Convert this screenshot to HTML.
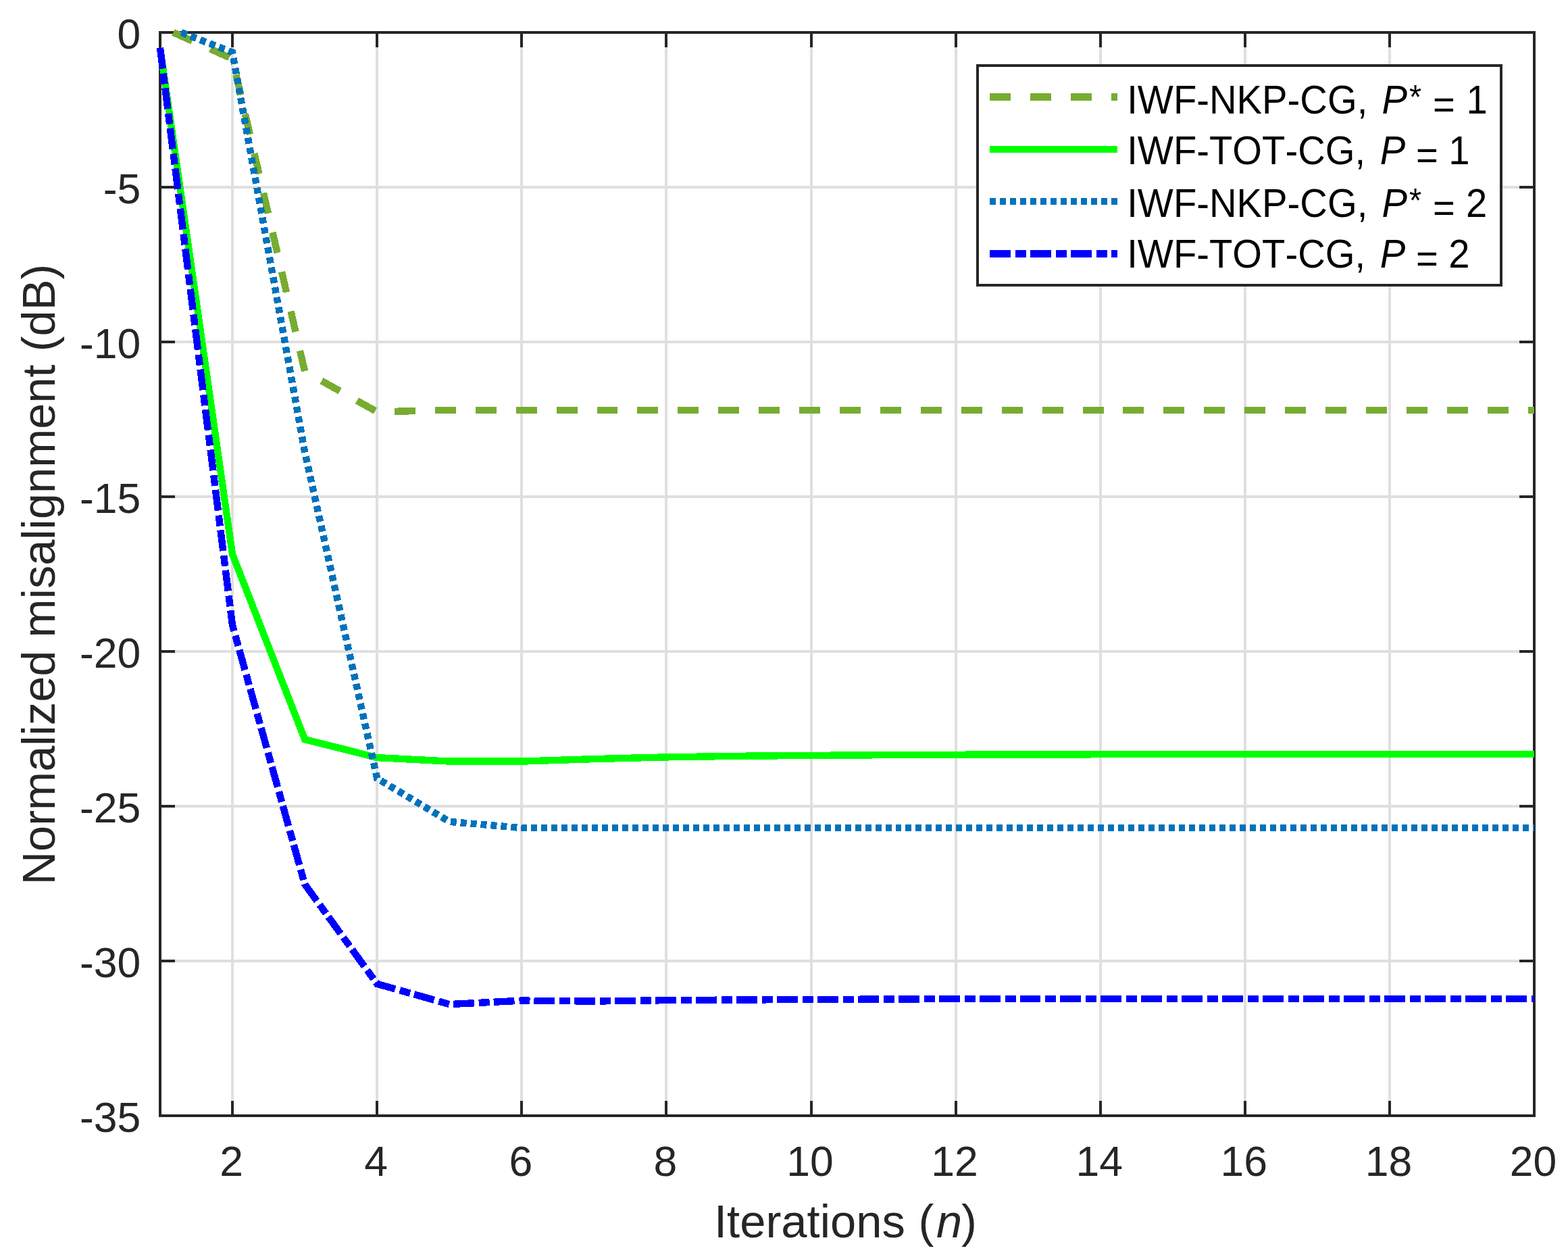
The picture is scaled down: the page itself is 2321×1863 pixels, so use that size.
<!DOCTYPE html>
<html lang="en"><head><meta charset="utf-8"><title>Normalized misalignment vs iterations</title>
<style>
html,body{margin:0;padding:0;background:#fff;}
body{width:2321px;height:1863px;overflow:hidden;}
svg{display:block;}
text{font-family:"Liberation Sans",sans-serif;font-kerning:none;}
.tick{font-size:62.5px;fill:#262626;}
.lab{font-size:68.75px;fill:#262626;}
.leg{font-size:56.25px;fill:#000;}
.i{font-style:italic;}
.ast{font-size:46.5px;}
</style></head><body>
<svg width="2321" height="1863" viewBox="0 0 2321 1863">
<rect x="0" y="0" width="2321" height="1863" fill="#fff"/>
<g stroke="#dfdfdf" stroke-width="4" fill="none" shape-rendering="crispEdges">
<line x1="344.1" y1="48.0" x2="344.1" y2="1651.0"/>
<line x1="558.2" y1="48.0" x2="558.2" y2="1651.0"/>
<line x1="772.3" y1="48.0" x2="772.3" y2="1651.0"/>
<line x1="986.4" y1="48.0" x2="986.4" y2="1651.0"/>
<line x1="1200.5" y1="48.0" x2="1200.5" y2="1651.0"/>
<line x1="1414.6" y1="48.0" x2="1414.6" y2="1651.0"/>
<line x1="1628.7" y1="48.0" x2="1628.7" y2="1651.0"/>
<line x1="1842.8" y1="48.0" x2="1842.8" y2="1651.0"/>
<line x1="2056.9" y1="48.0" x2="2056.9" y2="1651.0"/>
<line x1="237.0" y1="1422.0" x2="2271.0" y2="1422.0"/>
<line x1="237.0" y1="1193.0" x2="2271.0" y2="1193.0"/>
<line x1="237.0" y1="964.0" x2="2271.0" y2="964.0"/>
<line x1="237.0" y1="735.0" x2="2271.0" y2="735.0"/>
<line x1="237.0" y1="506.0" x2="2271.0" y2="506.0"/>
<line x1="237.0" y1="277.0" x2="2271.0" y2="277.0"/>
</g>
<g stroke="#262626" stroke-width="4.0" fill="none" shape-rendering="crispEdges">
<line x1="344.1" y1="1651.0" x2="344.1" y2="1629.0"/>
<line x1="344.1" y1="48.0" x2="344.1" y2="70.0"/>
<line x1="558.2" y1="1651.0" x2="558.2" y2="1629.0"/>
<line x1="558.2" y1="48.0" x2="558.2" y2="70.0"/>
<line x1="772.3" y1="1651.0" x2="772.3" y2="1629.0"/>
<line x1="772.3" y1="48.0" x2="772.3" y2="70.0"/>
<line x1="986.4" y1="1651.0" x2="986.4" y2="1629.0"/>
<line x1="986.4" y1="48.0" x2="986.4" y2="70.0"/>
<line x1="1200.5" y1="1651.0" x2="1200.5" y2="1629.0"/>
<line x1="1200.5" y1="48.0" x2="1200.5" y2="70.0"/>
<line x1="1414.6" y1="1651.0" x2="1414.6" y2="1629.0"/>
<line x1="1414.6" y1="48.0" x2="1414.6" y2="70.0"/>
<line x1="1628.7" y1="1651.0" x2="1628.7" y2="1629.0"/>
<line x1="1628.7" y1="48.0" x2="1628.7" y2="70.0"/>
<line x1="1842.8" y1="1651.0" x2="1842.8" y2="1629.0"/>
<line x1="1842.8" y1="48.0" x2="1842.8" y2="70.0"/>
<line x1="2056.9" y1="1651.0" x2="2056.9" y2="1629.0"/>
<line x1="2056.9" y1="48.0" x2="2056.9" y2="70.0"/>
<line x1="2271.0" y1="1651.0" x2="2271.0" y2="1629.0"/>
<line x1="2271.0" y1="48.0" x2="2271.0" y2="70.0"/>
<line x1="237.0" y1="1651.0" x2="259.0" y2="1651.0"/>
<line x1="2271.0" y1="1651.0" x2="2249.0" y2="1651.0"/>
<line x1="237.0" y1="1422.0" x2="259.0" y2="1422.0"/>
<line x1="2271.0" y1="1422.0" x2="2249.0" y2="1422.0"/>
<line x1="237.0" y1="1193.0" x2="259.0" y2="1193.0"/>
<line x1="2271.0" y1="1193.0" x2="2249.0" y2="1193.0"/>
<line x1="237.0" y1="964.0" x2="259.0" y2="964.0"/>
<line x1="2271.0" y1="964.0" x2="2249.0" y2="964.0"/>
<line x1="237.0" y1="735.0" x2="259.0" y2="735.0"/>
<line x1="2271.0" y1="735.0" x2="2249.0" y2="735.0"/>
<line x1="237.0" y1="506.0" x2="259.0" y2="506.0"/>
<line x1="2271.0" y1="506.0" x2="2249.0" y2="506.0"/>
<line x1="237.0" y1="277.0" x2="259.0" y2="277.0"/>
<line x1="2271.0" y1="277.0" x2="2249.0" y2="277.0"/>
<line x1="237.0" y1="48.0" x2="259.0" y2="48.0"/>
<line x1="2271.0" y1="48.0" x2="2249.0" y2="48.0"/>
</g>
<rect x="237.0" y="48.0" width="2034.0" height="1603.0" fill="none" stroke="#262626" stroke-width="4.0"/>
<g fill="none" stroke-width="10.4" stroke-linejoin="miter" shape-rendering="crispEdges">
<path d="M256.48,48.00 L344.05,87.11 L451.11,549.51 L558.16,609.51 L665.21,606.76 L772.26,606.76 L879.32,606.76 L986.37,606.76 L1093.42,606.76 L1200.47,606.76 L1307.53,606.76 L1414.58,606.76 L1521.63,606.76 L1628.68,606.76 L1735.74,606.76 L1842.79,606.76 L1949.84,606.76 L2056.89,606.76 L2163.95,606.76 L2271.00,606.76" stroke="#77ac30" stroke-dasharray="30.96 28.96"/>
<path d="M237.00,70.90 L344.05,820.19 L451.11,1094.07 L558.16,1121.09 L665.21,1126.59 L772.26,1126.59 L879.32,1123.11 L986.37,1120.36 L1093.42,1118.80 L1200.47,1117.89 L1307.53,1117.20 L1414.58,1116.74 L1521.63,1116.51 L1628.68,1116.28 L1735.74,1116.06 L1842.79,1116.06 L1949.84,1116.06 L2056.89,1116.06 L2163.95,1116.06 L2271.00,1116.06" stroke="#00ff00"/>
<path d="M268.29,48.00 L344.05,77.50 L451.11,668.59 L558.16,1151.78 L665.21,1215.90 L772.26,1225.06 L879.32,1225.06 L986.37,1225.06 L1093.42,1225.06 L1200.47,1225.06 L1307.53,1225.06 L1414.58,1225.06 L1521.63,1225.06 L1628.68,1225.06 L1735.74,1225.06 L1842.79,1225.06 L1949.84,1225.06 L2056.89,1225.06 L2163.95,1225.06 L2271.00,1225.06" stroke="#0072bd" stroke-dasharray="8.988 5.992"/>
<path d="M237.00,70.90 L344.05,925.07 L451.11,1308.42 L558.16,1455.89 L665.21,1486.12 L772.26,1480.62 L879.32,1481.54 L986.37,1480.17 L1093.42,1479.48 L1200.47,1479.02 L1307.53,1478.56 L1414.58,1478.11 L1521.63,1477.88 L1628.68,1477.88 L1735.74,1477.88 L1842.79,1477.88 L1949.84,1477.88 L2056.89,1477.88 L2163.95,1477.88 L2271.00,1477.88" stroke="#0000ff" stroke-dasharray="30.96 6.99 15.98 5.99"/>
</g>
<g class="tick" text-anchor="middle">
<text x="342.6" y="1739.6">2</text>
<text x="556.7" y="1739.6">4</text>
<text x="770.8" y="1739.6">6</text>
<text x="984.9" y="1739.6">8</text>
<text x="1199.0" y="1739.6">10</text>
<text x="1413.1" y="1739.6">12</text>
<text x="1627.2" y="1739.6">14</text>
<text x="1841.3" y="1739.6">16</text>
<text x="2055.4" y="1739.6">18</text>
<text x="2269.5" y="1739.6">20</text>
</g>
<g class="tick" text-anchor="end">
<text x="208.3" y="71.9">0</text>
<text x="208.3" y="300.9">-5</text>
<text x="208.3" y="529.9">-10</text>
<text x="208.3" y="758.9">-15</text>
<text x="208.3" y="987.9">-20</text>
<text x="208.3" y="1216.9">-25</text>
<text x="208.3" y="1445.9">-30</text>
<text x="208.3" y="1674.9">-35</text>
</g>
<text class="lab" y="1831.3"><tspan x="1057.0">Iterations </tspan><tspan x="1359.4">(</tspan><tspan x="1385.9" class="i">n</tspan><tspan x="1423.0">)</tspan></text>
<text class="lab" text-anchor="middle" transform="translate(80.5,850.1) rotate(-90) scale(0.998,1)">Normalized misalignment (dB)</text>
<rect x="1447.2" y="97.1" width="774.7" height="325.3" fill="#fff" stroke="#262626" stroke-width="4.0" shape-rendering="crispEdges"/>
<g fill="none" shape-rendering="crispEdges">
<line x1="1465" y1="143.5" x2="1654" y2="143.5" stroke="#77ac30" stroke-width="11" stroke-dasharray="31 29"/>
<line x1="1465" y1="221.0" x2="1654" y2="221.0" stroke="#00ff00" stroke-width="10"/>
<line x1="1465" y1="298.0" x2="1654" y2="298.0" stroke="#0072bd" stroke-width="10" stroke-dasharray="9 6"/>
<line x1="1465" y1="375.5" x2="1654" y2="375.5" stroke="#0000ff" stroke-width="11" stroke-dasharray="31 7 16 6"/>
</g>
<g class="leg">
<text transform="translate(0,168.2) scale(1,1.057)" xml:space="preserve"><tspan x="1668.2" y="0.0">IWF-NKP-CG, </tspan><tspan x="2045.6" y="0.0" class="i">P</tspan><tspan x="2086.0" y="-7.2" class="ast">* </tspan><tspan x="2121.0" y="6.5">= </tspan><tspan x="2170.4" y="0.0">1</tspan></text>
<text transform="translate(0,243.0) scale(1,1.057)" xml:space="preserve"><tspan x="1668.2" y="0.0">IWF-TOT-CG, </tspan><tspan x="2042.7" y="0.0" class="i">P </tspan><tspan x="2095.9" y="6.5">= </tspan><tspan x="2144.3" y="0.0">1</tspan></text>
<text transform="translate(0,321.2) scale(1,1.057)" xml:space="preserve"><tspan x="1668.2" y="0.0">IWF-NKP-CG, </tspan><tspan x="2045.6" y="0.0" class="i">P</tspan><tspan x="2086.0" y="-7.2" class="ast">* </tspan><tspan x="2121.0" y="6.5">= </tspan><tspan x="2170.0" y="0.0">2</tspan></text>
<text transform="translate(0,396.1) scale(1,1.057)" xml:space="preserve"><tspan x="1668.2" y="0.0">IWF-TOT-CG, </tspan><tspan x="2042.7" y="0.0" class="i">P </tspan><tspan x="2095.9" y="6.5">= </tspan><tspan x="2144.3" y="0.0">2</tspan></text>
</g>
</svg>
</body></html>
